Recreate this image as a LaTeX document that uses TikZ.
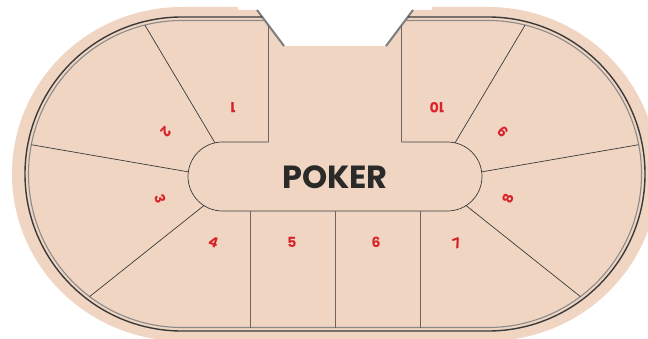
\documentclass[tikz,border=0pt]{standalone}
\usepackage{fontspec}
\newfontfamily\pop{Poppins}
\usetikzlibrary{calc}
\definecolor{felt}{HTML}{F0D5C3}
\definecolor{railblack}{HTML}{3A3A3A}
\definecolor{railgray}{HTML}{8A8A8A}
\definecolor{seatred}{HTML}{D9232B}
\definecolor{inkdark}{HTML}{2A2A28}
\definecolor{vgray}{HTML}{6E6560}
\tikzset{
  railouter/.style={draw=railblack,line width=1.4pt},
  railinner/.style={draw=railgray,line width=1.1pt},
  divider/.style={draw=railblack,line width=0.7pt},
  vdivider/.style={draw=vgray,line width=0.9pt},
  notchline/.style={draw=railgray!90!black,line width=2pt},
  seatlabel/.style={text=seatred,font=\pop\bfseries\fontsize{14}{14}\selectfont,inner sep=0pt},
}
\begin{document}
\begin{tikzpicture}[x=1pt,y=1pt]
\useasboundingbox (0,0) rectangle (648,338);
\clip (0,0) rectangle (648,338);
\coordinate (L) at (182,164);
\coordinate (R) at (488,164);
\coordinate (OL) at (222.5,161.5);
\coordinate (OR) at (447.5,161.5);
% felt
\fill[felt] (238,331) -- (182,331) arc[start angle=90,end angle=270,x radius=170,y radius=167]
  -- (488,-3) arc[start angle=-90,end angle=90,x radius=170,y radius=167]
  -- (432,331) -- (432,328) -- (413,328) -- (386,292) -- (284,292) -- (257,328) -- (238,328) -- cycle;
% notch lines
\coordinate (nl1) at (257,328); \coordinate (nl2) at (284,292);
\coordinate (nr1) at (413,328); \coordinate (nr2) at (386,292);
\draw[notchline] (nl1) -- (nl2);
\draw[notchline] (nr1) -- (nr2);
% rails
\draw[railouter] (262.25,321) -- (182,321) arc[start angle=90,end angle=270,radius=157]
  -- (488,7) arc[start angle=-90,end angle=90,radius=157] -- (407.75,321);
\draw[railinner] (264.9,317.5) -- (182,317.5) arc[start angle=90,end angle=270,radius=153.5]
  -- (488,10.5) arc[start angle=-90,end angle=90,radius=153.5] -- (405.1,317.5);
% dealer area
\draw[divider] (268.5,196) -- (222.5,196) arc[start angle=90,end angle=270,radius=34.5]
  -- (447.5,127) arc[start angle=-90,end angle=90,radius=34.5] -- (401.5,196);
\draw[vdivider] (268.5,196) -- (268.5,312.7);
\draw[vdivider] (401.5,196) -- (401.5,312.7);
% seat dividers
\draw[divider] ($(L)+(104:153.5)$) -- ($(OL)+(102.6:34.5)$);
\draw[divider] ($(L)+(169:153.5)$) -- ($(OL)+(172.3:34.5)$);
\draw[divider] ($(L)+(233:153.5)$) -- ($(OL)+(237.4:34.5)$);
\draw[divider] ($(R)+(76:153.5)$) -- ($(OR)+(77.4:34.5)$);
\draw[divider] ($(R)+(11:153.5)$) -- ($(OR)+(7.7:34.5)$);
\draw[divider] ($(R)+(-53:153.5)$) -- ($(OR)+(-57.4:34.5)$);
\draw[vdivider] (250,127) -- (250,10.5);
\draw[vdivider] (335,127) -- (335,10.5);
\draw[vdivider] (420,127) -- (420,10.5);
% title
\node[text=inkdark,font=\pop\bfseries\fontsize{32}{32}\selectfont,inner sep=0pt] (title) at (335,160.5) {POKER};
% seat labels
\node[seatlabel,rotate=180] (s1) at (233,230) {1};
\node[seatlabel,rotate=-133.5] (s2) at (166,206.5) {2};
\node[seatlabel,rotate=-72] (s3) at (160,139.5) {3};
\node[seatlabel,rotate=-18.5] (s4) at (213.5,96) {4};
\node[seatlabel] (s5) at (292,96) {5};
\node[seatlabel] (s6) at (376,95.5) {6};
\node[seatlabel,rotate=20] (s7) at (457,95) {7};
\node[seatlabel,rotate=72] (s8) at (508,139.5) {8};
\node[seatlabel,rotate=133.5] (s9) at (503,206.5) {9};
\node[seatlabel,rotate=180] (s10) at (437,230) {10};
\end{tikzpicture}
\end{document}
